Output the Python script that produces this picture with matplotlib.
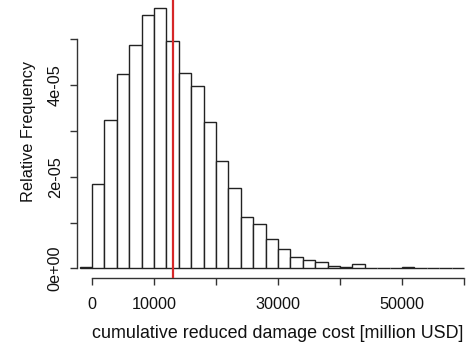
import matplotlib
matplotlib.use("Agg")
import matplotlib.pyplot as plt
import numpy as np

# histogram bin edges (million USD) and relative frequency densities
bin_edges = list(range(-2000, 60001, 2000))
densities = [0.02e-5, 1.834e-5, 3.23e-5, 4.236e-5, 4.87e-5, 5.54e-5, 5.69e-5,
             4.96e-5, 4.26e-5, 3.99e-5, 3.20e-5, 2.35e-5, 1.75e-5, 1.11e-5,
             0.975e-5, 0.64e-5, 0.415e-5, 0.255e-5, 0.175e-5, 0.13e-5,
             0.044e-5, 0.022e-5, 0.087e-5, 0.01e-5, 0.01e-5, 0.0, 0.022e-5,
             0.0, 0.0, 0.0, 0.0]
mean_value = 13050
x_ticks = [0, 10000, 20000, 30000, 40000, 50000, 60000]
x_tick_labels = ["0", "10000", "", "30000", "", "50000", ""]
y_ticks = [0, 1e-5, 2e-5, 3e-5, 4e-5, 5e-5]
y_tick_labels = ["0e+00", "", "2e-05", "", "4e-05", ""]

plt.rcParams['font.family'] = ['Liberation Sans', 'DejaVu Sans']

W, H = 466, 344
fig = plt.figure(figsize=(W / 100, H / 100), dpi=100)

# pixel geometry of the reference
left_px, bottom_px, top_px = 76.7, 278.3, 0.0
x0_px, ppu_x = 92.0, 0.0062          # pixel of x=0, pixels per unit
y0_px, ppu_y = 268.3, 45.8e5         # pixel of y=0, pixels per unit
xmin = (left_px - x0_px) / ppu_x
xmax = 62500
right_px = x0_px + xmax * ppu_x
ymin = (y0_px - bottom_px) / ppu_y
ymax = (y0_px - top_px) / ppu_y

ax = fig.add_axes([left_px / W, (H - bottom_px) / H,
                   (right_px - left_px) / W, (bottom_px - top_px) / H])
ax.set_xlim(xmin, xmax)
ax.set_ylim(ymin, ymax)

edges = np.array(bin_edges)
ax.bar(edges[:-1], densities, width=np.diff(edges), align='edge',
       facecolor='white', edgecolor='#222222', linewidth=1.0)
ax.axvline(mean_value, color='#d62728', linewidth=1.6, zorder=5)

for s in ['top', 'right']:
    ax.spines[s].set_visible(False)
ax.spines['bottom'].set_bounds(0, 60000)
ax.spines['left'].set_bounds(0, 5e-5)
for s in ['bottom', 'left']:
    ax.spines[s].set_color('#333333')
    ax.spines[s].set_linewidth(1.0)

ax.set_xticks(x_ticks)
ax.set_xticklabels(x_tick_labels)
ax.set_yticks(y_ticks)
ax.set_yticklabels(y_tick_labels, rotation=90, va='center')
ax.tick_params(axis='both', direction='out', length=5, width=1.0,
               color='#333333', labelsize=11.7, labelcolor='#111111')
ax.tick_params(axis='x', pad=8.5)
ax.tick_params(axis='y', pad=5)

fig.text((x0_px + 30000 * ppu_x) / W, (H - 338.3) / H,
         "cumulative reduced damage cost [million USD]", fontsize=12.9,
         color='#111111', ha='center', va='baseline')
fig.text(28.5 / W, (H - 131) / H, "Relative Frequency", fontsize=11.7,
         color='#111111', ha='center', va='center', rotation=90)

fig.savefig("out.png", dpi=100)
